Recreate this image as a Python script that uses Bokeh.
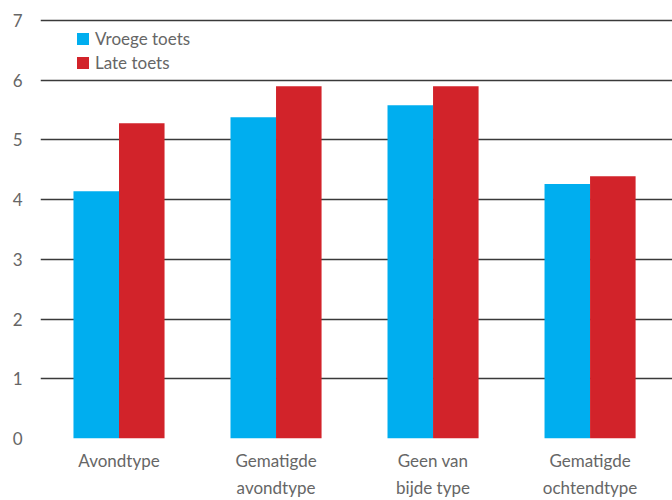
from bokeh.plotting import figure
from bokeh.models import Range1d, FixedTicker, Legend, LegendItem
from bokeh.embed import file_html
from bokeh.resources import INLINE

categories = ["Avondtype", "Gematigde avondtype", "Geen van bijde type", "Gematigde ochtendtype"]
tick_labels = ["Avondtype", "Gematigde\navondtype", "Geen van\nbijde type", "Gematigde\nochtendtype"]
vroege = [4.14, 5.38, 5.58, 4.26]
late = [5.28, 5.90, 5.90, 4.39]
series_names = ["Vroege toets", "Late toets"]
y_ticks = [0, 1, 2, 3, 4, 5, 6, 7]

BLUE = "#00AEEF"
RED = "#D2232A"
FONT = "Lato"
TXT = "#666666"

p = figure(width=672, height=500, output_backend="svg", toolbar_location=None,
           x_range=Range1d(0, 4.025), y_range=Range1d(0, 7.05),
           min_border_left=40, min_border_right=0, min_border_top=17, min_border_bottom=20)
p.outline_line_color = None
p.background_fill_color = "white"

xs = [i + 0.5 for i in range(len(categories))]
w = 0.29
r1 = p.vbar(x=[x - w / 2 for x in xs], top=vroege, width=w, color=BLUE, line_color=None)
r2 = p.vbar(x=[x + w / 2 for x in xs], top=late, width=w, color=RED, line_color=None)

p.xgrid.visible = False
p.ygrid.ticker = FixedTicker(ticks=y_ticks)
p.ygrid.grid_line_color = "#3a3a3a"
p.ygrid.grid_line_width = 1.6
p.ygrid.level = "underlay"

p.yaxis.ticker = FixedTicker(ticks=y_ticks)
p.yaxis.axis_line_color = None
p.yaxis.major_tick_line_color = None
p.yaxis.minor_tick_line_color = None
p.yaxis.major_label_standoff = 12
p.yaxis.major_label_text_font = FONT
p.yaxis.major_label_text_font_size = "17px"
p.yaxis.major_label_text_color = TXT

p.xaxis.ticker = FixedTicker(ticks=xs)
p.xaxis.major_label_overrides = {x: t for x, t in zip(xs, tick_labels)}
p.xaxis.axis_line_color = None
p.xaxis.major_tick_line_color = None
p.xaxis.minor_tick_line_color = None
p.xaxis.major_label_standoff = 5
p.xaxis.major_label_text_font = FONT
p.xaxis.major_label_text_font_size = "17px"
p.xaxis.major_label_text_color = TXT
p.xaxis.major_label_text_line_height = 1.3

legend = Legend(items=[LegendItem(label=series_names[0], renderers=[r1]),
                       LegendItem(label=series_names[1], renderers=[r2])],
                location=(35, 365), orientation="vertical",
                glyph_width=15, glyph_height=15, label_height=15,
                label_standoff=5, spacing=3, padding=0, margin=0,
                border_line_color=None, background_fill_alpha=0,
                label_text_font=FONT, label_text_font_size="17px", label_text_color=TXT)
p.add_layout(legend, "center")

open("out.html", "w").write(file_html(p, INLINE))
